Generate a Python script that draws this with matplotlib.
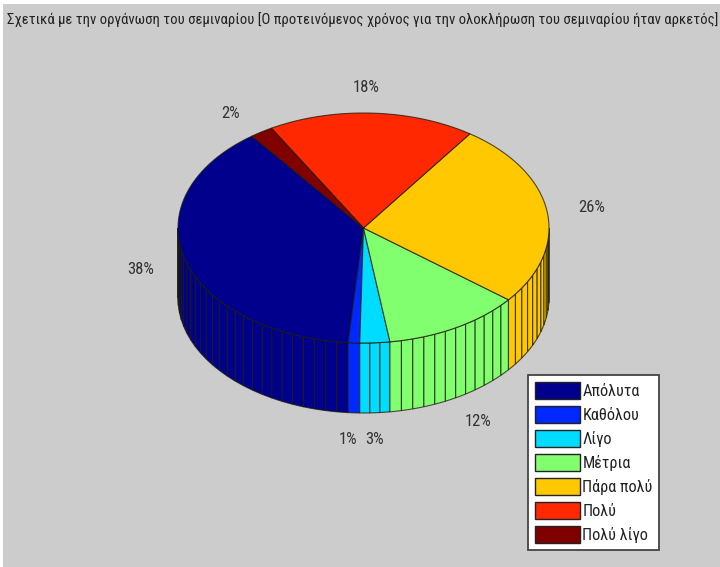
import numpy as np
import matplotlib
matplotlib.use('Agg')
import matplotlib.pyplot as plt
from matplotlib.patches import Polygon, Rectangle, Patch

plt.rcParams['font.family'] = ['Roboto Condensed', 'Fira Sans Condensed', 'Liberation Sans', 'DejaVu Sans']

title = 'Σχετικά με την οργάνωση του σεμιναρίου [Ο προτεινόμενος χρόνος για την ολοκλήρωση του σεμιναρίου ήταν αρκετός]'
categories = ['Απόλυτα', 'Καθόλου', 'Λίγο', 'Μέτρια', 'Πάρα πολύ', 'Πολύ', 'Πολύ λίγο']
values = [38.4, 1.0, 2.6, 12.0, 26.0, 18.0, 2.0]
colors = ['#00008c', '#0028ff', '#00dcff', '#82ff6e', '#ffc800', '#ff2800', '#800000']

# where the percent labels sit, in pixels
label_xy = [(141, 270), (348, 440), (375, 440), (478, 422), (592, 207), (366, 88), (231, 113)]

# pie geometry in pixels
cx, cy = 363.5, 228
a, b = 185.5, 115
depth = 70
start = 127

BG = '#cccccc'
EDGE = (0.1, 0.1, 0.04, 0.75)


def ring(t):
    t = np.radians(t)
    return cx + a * np.cos(t), cy - b * np.sin(t)


fig = plt.figure(figsize=(7.2, 5.67), dpi=100, facecolor='white')
ax = fig.add_axes([0, 0, 1, 1])
ax.set_xlim(0, 720)
ax.set_ylim(567, 0)
ax.axis('off')
ax.add_patch(Rectangle((3, 4), 717, 563, facecolor=BG, edgecolor='none', zorder=0))

# side walls first, one facet per percent like pie3
t0 = start
tops = []
for v, c in zip(values, colors):
    t1 = t0 + v * 3.6
    edges = np.linspace(t0, t1, int(np.ceil(v)) + 1)
    for f0, f1 in zip(edges[:-1], edges[1:]):
        # only the front half of the cylinder is visible
        for shift in (0, 360):
            lo = max(f0, 180 + shift)
            hi = min(f1, 360 + shift)
            if hi <= lo:
                continue
            ts = np.linspace(lo, hi, 6)
            x, y = ring(ts)
            pts = list(zip(x, y)) + list(zip(x[::-1], y[::-1] + depth))
            ax.add_patch(Polygon(pts, closed=True, facecolor=c, edgecolor=EDGE, lw=0.8, zorder=2))
    tops.append((t0, t1, c))
    t0 = t1

for t0, t1, c in tops:
    ts = np.linspace(t0, t1, max(int(t1 - t0), 2) + 1)
    x, y = ring(ts)
    pts = [(cx, cy)] + list(zip(x, y))
    ax.add_patch(Polygon(pts, closed=True, facecolor=c, edgecolor=EDGE, lw=0.8, zorder=3))

for v, (lx, ly) in zip(values, label_xy):
    ax.text(lx, ly, f'{v:.0f}%', ha='center', va='center', fontsize=12, color='#333333', zorder=4)

title_txt = ax.text(7, 20, title, ha='left', va='center', fontsize=12, color='#222222', zorder=4)
# title runs from x=7 to x=717 in the reference
w = title_txt.get_window_extent(fig.canvas.get_renderer()).width
title_txt.set_fontsize(12 * 710 / w)

handles = [Patch(facecolor=c, edgecolor='#222222', lw=1) for c in colors]
leg = ax.legend(handles, categories, loc='upper left', bbox_to_anchor=(528, 375),
                bbox_transform=ax.transData, fontsize=11.7, frameon=True, fancybox=False,
                framealpha=1, facecolor='white', edgecolor='#444444',
                handlelength=2.75, handleheight=1.25, handletextpad=0.17,
                labelspacing=0.42, borderpad=0.42, borderaxespad=0,
                labelcolor='#222222')
leg.get_frame().set_linewidth(1.3)
leg.set_zorder(5)

fig.savefig('out.png', dpi=100, facecolor='white')
